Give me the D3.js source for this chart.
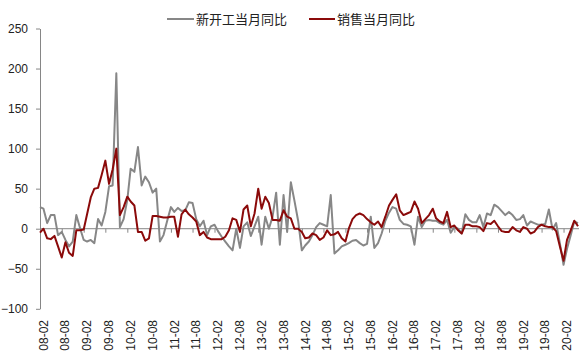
<!DOCTYPE html>
<html>
<head>
<meta charset="utf-8">
<script src="https://cdn.jsdelivr.net/npm/d3@7"></script>
<style>
  html, body { margin: 0; padding: 0; background: #fff; }
  svg { display: block; }
</style>
</head>
<body>
<svg id="chart" width="580" height="352"></svg>
<script>
// ---- data (monthly, 2008-02 .. 2020-06) ----
const startMonth = "2008-02";
const endMonth = "2020-06";

const seriesNames = ["新开工当月同比", "销售当月同比"];

const newStarts = [
  27, 25, 7, 17, 17, -8, -4, -14, -22, -16, 17, 1,
  -14, -16, -14, -18, 12, 4, 21, 53, 54, 194, 2, 12,
  36, 75, 71, 102, 54, 65, 58, 45, 50, -16, -8, 10,
  27, 21, 26, 22, 23, 33, 32, 12, 3, 10, -8, 3,
  5, -3, -10, -16, -22, -27, 0, -24, 3, 8, -9, 3,
  15, -20, 15, 0, 15, 45, -20, 42, -4, 58, 35, 10,
  -27, -21, -16, -8, 2, 7, 5, 3, 42, -31, -27, -22,
  -20, -18, -15, -14, -18, -21, -19, 15, -24, -18, -6, 10,
  20, 27, 25, 11, 6, 5, 3, -20, 15, 2, 10, 11,
  10, 10, 7, 5, 11, -5, 2, 0, -6, 18, 11, 8,
  8, 17, 2, 19, 17, 30, 27, 22, 17, 21, 17, 11,
  12, 17, 4, 9, 7, 5, 5, 6, 24, -1, 7, -18,
  -45, -25, -8, 9, 7
];

const sales = [
  -5, 0, -12, -13, -9, -22, -36, -17, -30, -34, -2, -2,
  -1, 18, 39, 50, 51, 67, 85, 56, 74, 100, 17, 27,
  40, 34, 29, -4, -4, -15, -12, 16, 16, 15, 14, 14,
  15, 15, -10, 18, 24, 18, 14, 9, -8, -4, -11, -13,
  -13, -13, -13, -10, -2, 13, 11, -4, 24, 29, 3, 19,
  50, 25, 40, 32, 11, 11, 10, 23, 15, 13, 0, 0,
  -4, -12, -11, -6, -8, -14, -11, -2, -8, -7, -4, -12,
  -16, 0, 12, 17, 19, 17, 12, 8, 5, 9, 2, 15,
  29, 36, 43, 23, 17, 19, 21, 34, 25, 7, 12, 17,
  25, 13, 9, 7, 21, 2, 4, -2, -6, 5, 5, 3,
  3, 2, -3, 7, 6, 10, 3, -3, -4, -4, 2, -2,
  -4, 2, 0, -6, -4, 2, 5, 3, 2, 2, -3, -22,
  -40, -14, -2, 10, 3
];

const xTickLabels = [
  "08-02","08-08","09-02","09-08","10-02","10-08","11-02","11-08",
  "12-02","12-08","13-02","13-08","14-02","14-08","15-02","15-08",
  "16-02","16-08","17-02","17-08","18-02","18-08","19-02","19-08","20-02"
];

const yTickValues = [-100, -50, 0, 50, 100, 150, 200, 250];

// ---- build ----
const parseYM = d3.timeParse("%Y-%m");
const parseTick = d3.timeParse("%y-%m");
const months = d3.timeMonth.range(parseYM(startMonth), d3.timeMonth.offset(parseYM(endMonth), 1));

const svg = d3.select("#chart");
const axisColor = "#868686";
const textColor = "#222";
const grayColor = "#878787";
const redColor = "#8b0a0a";

const x = d3.scaleTime()
  .domain([months[0], months[months.length - 1]])
  .range([40, 578]);

const y = d3.scaleLinear()
  .domain([-100, 250])
  .range([308.8, 28.5]);

// y axis
const yAxis = svg.append("g")
  .attr("transform", "translate(40,0)")
  .call(d3.axisLeft(y).tickValues(yTickValues).tickSize(4).tickSizeOuter(0).tickPadding(8));
yAxis.select(".domain").attr("stroke", axisColor);
yAxis.selectAll(".tick line").attr("stroke", axisColor);
yAxis.selectAll(".tick text")
  .attr("fill", textColor)
  .style("font-family", "'Liberation Sans', Arial, sans-serif")
  .style("font-size", "12px");

// x axis at zero
const tickDates = xTickLabels.map(parseTick);
const xAxis = svg.append("g")
  .attr("transform", `translate(0,${y(0)})`)
  .call(d3.axisBottom(x).tickValues(tickDates).tickSize(4).tickSizeOuter(0).tickFormat(""));
xAxis.select(".domain").attr("stroke", axisColor).attr("d", `M40,0H579`);
xAxis.selectAll(".tick line").attr("stroke", axisColor);

// x labels at bottom, rotated
svg.append("g")
  .selectAll("text")
  .data(xTickLabels)
  .join("text")
  .attr("transform", (d, i) => `translate(${x(tickDates[i]) + 3.5},320) rotate(-90)`)
  .attr("text-anchor", "end")
  .attr("dy", "0.35em")
  .attr("fill", textColor)
  .style("font-family", "'Liberation Sans', Arial, sans-serif")
  .style("font-size", "12px")
  .text(d => d);

// lines
const line = d3.line()
  .x((d, i) => x(months[i]))
  .y(d => y(d));

svg.append("path")
  .datum(newStarts)
  .attr("fill", "none")
  .attr("stroke", grayColor)
  .attr("stroke-width", 2)
  .attr("stroke-linejoin", "round")
  .attr("d", line);

svg.append("path")
  .datum(sales)
  .attr("fill", "none")
  .attr("stroke", redColor)
  .attr("stroke-width", 2)
  .attr("stroke-linejoin", "round")
  .attr("d", line);

// legend
const legendItems = [
  { name: seriesNames[0], color: grayColor, x1: 167, x2: 194, tx: 196 },
  { name: seriesNames[1], color: redColor, x1: 309, x2: 335, tx: 337 }
];
const lg = svg.append("g");
legendItems.forEach(it => {
  lg.append("line")
    .attr("x1", it.x1).attr("x2", it.x2)
    .attr("y1", 19).attr("y2", 19)
    .attr("stroke", it.color).attr("stroke-width", 2);
  lg.append("text")
    .attr("x", it.tx).attr("y", 19)
    .attr("dy", "0.36em")
    .attr("fill", textColor)
    .style("font-family", "'Noto Sans CJK SC', sans-serif")
    .style("font-size", "13px")
    .text(it.name);
});
</script>
</body>
</html>
